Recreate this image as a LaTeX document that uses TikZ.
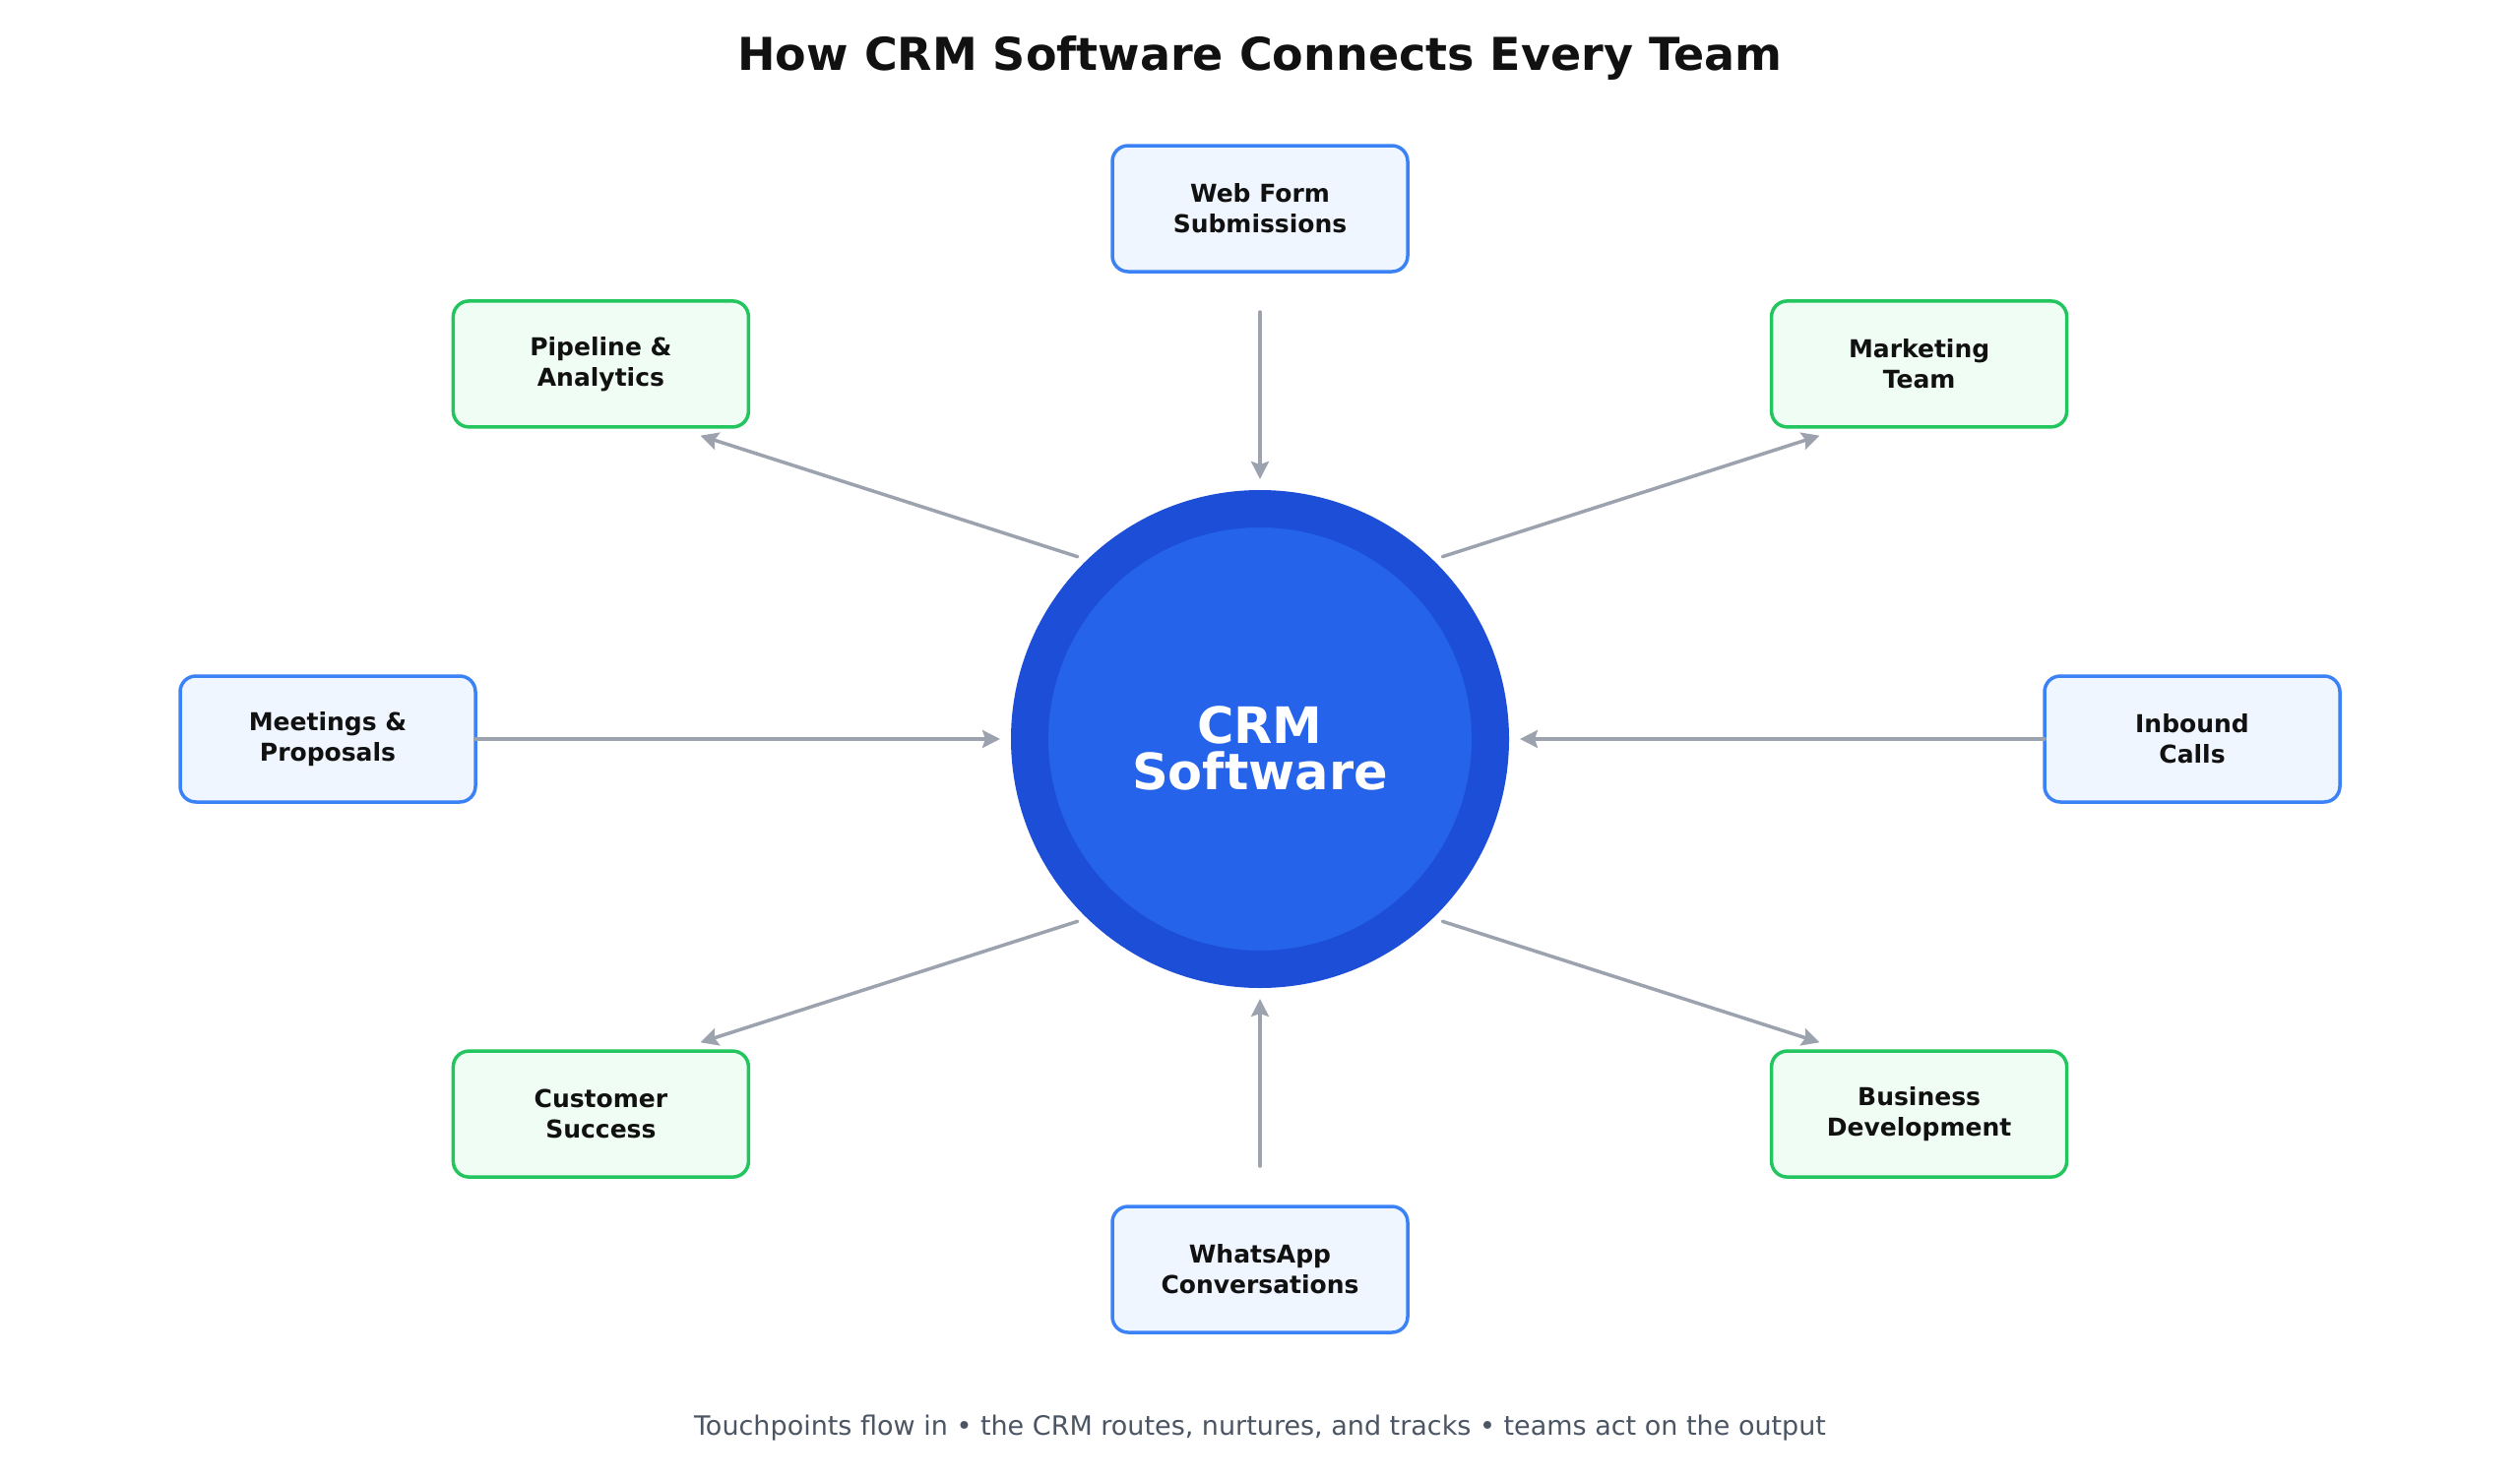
\documentclass[tikz,border=0pt]{standalone}
\usepackage{fontspec}
\setmainfont{DejaVu Sans}
\usetikzlibrary{arrows.meta,calc}
\definecolor{bluebd}{HTML}{3B82F6}
\definecolor{bluebg}{HTML}{EFF6FF}
\definecolor{greenbd}{HTML}{22C55E}
\definecolor{greenbg}{HTML}{F0FDF4}
\definecolor{arrgray}{HTML}{9CA3AF}
\definecolor{ringblue}{HTML}{1D4ED8}
\definecolor{coreblue}{HTML}{2563EB}
\definecolor{ink}{HTML}{111111}
\definecolor{subgray}{HTML}{4B5563}
\begin{document}
\begin{tikzpicture}[x=1pt,y=-1pt,
  box/.style={rectangle, rounded corners=16pt, minimum width=300pt, minimum height=128pt,
    line width=3.5pt, align=center, text=ink, inner sep=0pt,
    font=\fontsize{25}{31}\selectfont\bfseries},
  inbox/.style={box, draw=bluebd, fill=bluebg},
  outbox/.style={box, draw=greenbd, fill=greenbg},
  arr/.style={draw=arrgray, line width=3.5pt, line cap=round,
    -{Stealth[length=18pt,width=18pt,inset=3pt]}},
  hub/.style={circle, minimum size=468pt, inner sep=0pt, line width=38pt,
    draw=ringblue, fill=coreblue},
  hubtext/.style={text=white, align=center, inner sep=0pt,
    font=\fontsize{51}{47}\selectfont\bfseries}]
\fill[white] (0,0) rectangle (2560,1504);
\useasboundingbox (0,0) rectangle (2560,1504);

\node[anchor=base, text=ink, font=\fontsize{46}{50}\selectfont\bfseries] (title) at (1280,72)
  {How CRM Software Connects Every Team};

\node[hub] (crm) at (1280,751) {};
\node[hubtext] (crmlabel) at ($(crm)+(0,9)$) {CRM\\Software};

\node[inbox]  (web)  at (1280,212)     {Web Form\\Submissions};
\node[outbox] (mkt)  at (1949.6,369.9) {Marketing\\Team};
\node[inbox]  (inb)  at (2227,751)     {Inbound\\Calls};
\node[outbox] (biz)  at (1949.6,1132.1){Business\\Development};
\node[inbox]  (wa)   at (1280,1290)    {WhatsApp\\Conversations};
\node[outbox] (cs)   at (610.4,1132.1) {Customer\\Success};
\node[inbox]  (meet) at (333,751)      {Meetings \&\\Proposals};
\node[outbox] (pipe) at (610.4,369.9)  {Pipeline \&\\Analytics};

% touchpoints flowing in
\foreach \a in {90,0,270,180}
  \draw[arr] ($(crm)+({797*cos(\a)},{-434*sin(\a)})$) -- ($(crm)+({264*cos(\a)},{-264*sin(\a)})$);
% teams receiving output
\foreach \a in {45,135,225,315}
  \draw[arr] ($(crm)+({262*cos(\a)},{-262*sin(\a)})$) -- ($(crm)+({804*cos(\a)},{-436*sin(\a)})$);

\node[anchor=base, text=subgray, font=\fontsize{27}{30}\selectfont] (sub) at (1280,1458)
  {Touchpoints flow in • the CRM routes, nurtures, and tracks • teams act on the output};
\end{tikzpicture}
\end{document}
